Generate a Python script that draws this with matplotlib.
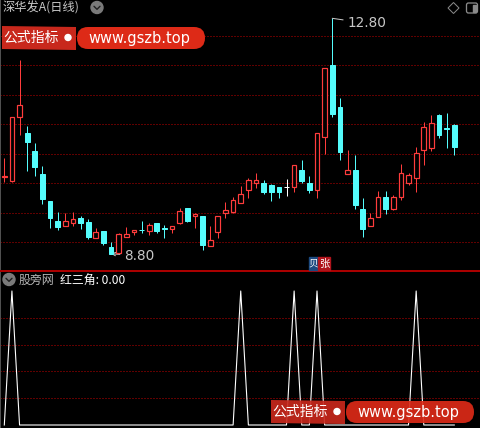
import matplotlib
matplotlib.use('Agg')
import matplotlib.pyplot as plt
from matplotlib.patches import FancyBboxPatch, Rectangle, Polygon, Circle

plt.rcParams['font.family'] = ['Noto Sans CJK SC', 'DejaVu Sans']

# ---------------- data ----------------
opens = [10.10, 10.03, 11.12, 10.85, 10.55, 10.15, 9.70, 9.36, 9.28, 9.32,
         9.41, 9.34, 9.07, 9.19, 8.91, 8.82, 9.08, 9.17, 9.21, 9.19,
         9.33, 9.24, 9.22, 9.33, 9.57, 9.44, 9.44, 8.94, 9.17, 9.49,
         9.51, 9.67, 9.89, 10.01, 10.00, 9.97, 9.93, 9.94, 9.94, 10.22,
         10.00, 9.88, 10.79, 12.01, 11.30, 10.15, 10.22, 9.56, 9.28, 9.42,
         9.76, 9.56, 9.76, 10.00, 10.09, 10.57, 10.60, 11.16, 10.93, 10.99]
highs = [10.43, 11.12, 12.09, 10.97, 10.69, 10.29, 9.70, 9.51, 9.49, 9.51,
         9.44, 9.39, 9.24, 9.19, 9.00, 9.16, 9.25, 9.21, 9.36, 9.33,
         9.33, 9.29, 9.28, 9.58, 9.57, 9.49, 9.44, 9.27, 9.45, 9.68,
         9.76, 9.95, 10.09, 10.17, 10.06, 9.98, 9.93, 10.07, 10.30, 10.39,
         10.12, 10.86, 11.95, 12.80, 11.44, 10.57, 10.48, 9.75, 9.49, 9.87,
         9.87, 9.80, 10.32, 10.17, 10.61, 11.04, 11.16, 11.17, 11.19, 11.00]
lows = [10.02, 10.02, 10.81, 10.21, 10.12, 9.65, 9.24, 9.20, 9.28, 9.28,
        9.22, 9.05, 9.07, 8.95, 8.80, 8.82, 9.08, 9.12, 9.15, 9.12,
        9.16, 9.07, 9.16, 9.31, 9.34, 9.24, 8.87, 8.94, 9.07, 9.41,
        9.50, 9.67, 9.75, 9.92, 9.82, 9.70, 9.75, 9.79, 9.85, 10.01,
        9.84, 9.75, 10.49, 11.13, 10.40, 10.15, 9.56, 9.09, 9.27, 9.42,
        9.48, 9.55, 9.72, 9.96, 9.85, 10.31, 10.55, 10.76, 10.60, 10.47]
closes = [10.12, 11.12, 11.32, 10.70, 10.28, 9.73, 9.41, 9.26, 9.35, 9.39,
          9.32, 9.09, 9.17, 8.99, 8.80, 9.14, 9.13, 9.21, 9.20, 9.29,
          9.19, 9.22, 9.28, 9.52, 9.36, 9.47, 8.95, 9.04, 9.45, 9.54,
          9.72, 9.81, 10.05, 10.05, 9.85, 9.85, 9.85, 9.94, 10.30, 10.04,
          9.89, 10.86, 11.95, 11.18, 10.53, 10.22, 9.63, 9.22, 9.40, 9.76,
          9.56, 9.76, 10.17, 10.13, 10.51, 10.95, 11.02, 10.81, 10.92, 10.62]
# 红三角 indicator
signal = [0, 1, 0, 0, 0, 0, 0, 0, 0, 0,
          0, 0, 0, 0, 0, 0, 0, 0, 0, 0,
          0, 0, 0, 0, 0, 0, 0, 0, 0, 0,
          0, 1, 0, 0, 0, 0, 0, 0, 1, 0,
          0, 1, 0, 0, 0, 0, 0, 0, 0, 0,
          0, 0, 0, 0, 1, 0, 0, 0, 0, 0]
grid_prices = [9.0, 9.5, 10.0, 10.5, 11.0, 11.5, 12.0, 12.5]
grid_signal = [0.2, 0.4, 0.6, 0.8]
title_text = "深华发A(日线)"
hi_label = "12.80"
lo_label = "8.80"

W, H = 480, 428
PX = 0.72  # 1 pixel in points at dpi 100
RED = '#FF3C3C'
CYAN = '#54FCFC'
GRID = '#C00000'

fig = plt.figure(figsize=(4.8, 4.28), dpi=100, facecolor='black')

x = list(range(len(opens)))
xlim = (-0.564, 62.37)

# ---------------- main panel ----------------
ax1 = fig.add_axes([0, (H - 270.5) / H, 1, 270.5 / H])
ax1.set_facecolor('black')
ax1.set_xlim(*xlim)
ax1.set_ylim(8.516, 13.111)
for s in ['top', 'right', 'bottom']:
    ax1.spines[s].set_visible(False)
ax1.spines['left'].set_color('#505050')
ax1.spines['left'].set_linewidth(2 * PX)
ax1.set_xticks([]); ax1.set_yticks([])
for g in grid_prices:
    ax1.axhline(g, color=GRID, lw=PX, ls=(0, (1, 2)), zorder=1)

bw = 0.62
for i in x:
    o, h, l, c = opens[i], highs[i], lows[i], closes[i]
    if c > o:
        col = RED
        ax1.vlines(i, c, h, color=col, lw=PX, zorder=3)
        ax1.vlines(i, l, o, color=col, lw=PX, zorder=3)
        ax1.bar(i, c - o, bottom=o, width=bw, facecolor='black', edgecolor=col,
                lw=1.2 * PX, zorder=4)
    elif c < o:
        col = CYAN
        ax1.vlines(i, l, h, color=col, lw=PX, zorder=3)
        ax1.bar(i, o - c, bottom=c, width=bw, facecolor=col, edgecolor=col,
                lw=PX, zorder=4)
    else:
        col = 'white'
        ax1.vlines(i, l, h, color=col, lw=PX, zorder=3)
        ax1.hlines(o, i - bw / 2, i + bw / 2, color=col, lw=PX, zorder=4)

imax = highs.index(max(highs))
imin = lows.index(min(lows))
ax1.annotate(hi_label, xy=(imax, highs[imax]), xytext=(15, -5),
             textcoords='offset pixels', color='#C8C8C8', fontsize=9.8,
             family='DejaVu Sans', va='center', ha='left',
             arrowprops=dict(arrowstyle='-', color='#C8C8C8', lw=PX,
                             shrinkA=1, shrinkB=0))
ax1.annotate(lo_label, xy=(imin, lows[imin]), xytext=(13, -2),
             textcoords='offset pixels', color='#C8C8C8', fontsize=9.8,
             family='DejaVu Sans', va='center', ha='left',
             arrowprops=dict(arrowstyle='->', color='#C8C8C8', lw=PX,
                             shrinkA=1, shrinkB=0, mutation_scale=6))

# ---------------- lower panel ----------------
ax2 = fig.add_axes([0, 0, 1, (H - 271) / H])
ax2.set_facecolor('black')
ax2.set_xlim(*xlim)
ax2.set_ylim(-0.0224, 1.149)
for s in ['right', 'bottom']:
    ax2.spines[s].set_visible(False)
ax2.spines['top'].set_color('#AA0000')
ax2.spines['top'].set_linewidth(2 * PX)
ax2.spines['left'].set_color('#505050')
ax2.spines['left'].set_linewidth(2 * PX)
ax2.set_xticks([]); ax2.set_yticks([])
for g in grid_signal:
    ax2.axhline(g, color=GRID, lw=PX, ls=(0, (1, 2)), zorder=1)
ax2.plot(x, signal, color='white', lw=PX * 1.1, zorder=3)

# ---------------- overlay (texts, icons, watermarks) ----------------
ov = fig.add_axes([0, 0, 1, 1])
ov.set_xlim(0, W); ov.set_ylim(H, 0)
ov.axis('off')
ov.patch.set_alpha(0)

ov.text(3, 7.5, title_text, color='#C8C8C8', fontsize=8.8, va='center', ha='left')
for cx, cy in [(97, 7.5), (9, 279.5)]:
    ov.add_patch(Circle((cx, cy), 6, color='#7A7A7A', zorder=5))
    ov.plot([cx - 3, cx, cx + 3], [cy - 1.2, cy + 1.8, cy - 1.2], color='#202020',
            lw=1.4 * PX, zorder=6, solid_capstyle='round')
ov.text(19, 280, "股旁网", color='#B8B8B8', fontsize=8.6, va='center', ha='left')
ov.text(60, 280, "红三角: " + f"{signal[-1]:.2f}", color='white', fontsize=8.6,
        va='center', ha='left')

# top right icons
ov.add_patch(Polygon([(453.5, 2.5), (459, 8), (453.5, 13.5), (448, 8)], closed=True,
                     fill=False, edgecolor='#8A8A8A', lw=PX))
ov.add_patch(FancyBboxPatch((466.5, 3), 11, 10, boxstyle='round,pad=0,rounding_size=2',
                            fill=False, edgecolor='#8A8A8A', lw=1.3 * PX))
ov.add_patch(Rectangle((472.5, 4.5), 3.5, 7, color='#8A8A8A'))

# info markers under candle
ov.add_patch(Rectangle((309, 257), 9, 13, color='#1C4A80', zorder=5))
ov.add_patch(Rectangle((318, 257), 12, 13, color='#B0141C', zorder=5))
ov.text(313.5, 263.5, "贝", color='white', fontsize=7, ha='center', va='center', zorder=6)
ov.text(324, 263.5, "张", color='white', fontsize=7.5, ha='center', va='center', zorder=6)


def watermark(x0, y0, alpha):
    ov.add_patch(Polygon([(x0, y0 - 1), (x0 + 74, y0), (x0 + 74, y0 + 23), (x0, y0 + 22)],
                         closed=True, color='#C8281C', alpha=alpha, zorder=7, lw=0))
    ov.text(x0 + 1, y0 + 11, "公式指标", color='white', fontsize=10, va='center',
            ha='left', zorder=8)
    ov.add_patch(Circle((x0 + 66, y0 + 10.5), 3, color='white', zorder=8))
    ov.add_patch(FancyBboxPatch((x0 + 75, y0), 128, 22,
                                boxstyle='round,pad=0,rounding_size=11',
                                color='#DD2A17', alpha=alpha, zorder=7, lw=0))
    ov.text(x0 + 86, y0 + 11.5, "www.gszb.top", color='white', fontsize=10.5,
            family='DejaVu Sans', va='center', ha='left', zorder=8)


watermark(2, 27, 1.0)
watermark(271, 401, 0.92)

fig.savefig('out.png', dpi=100, facecolor='black')
